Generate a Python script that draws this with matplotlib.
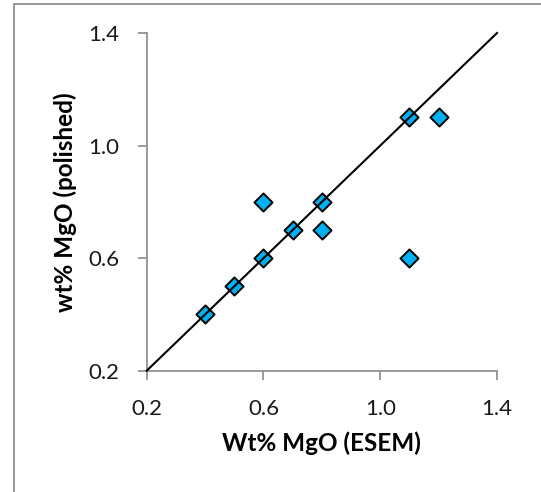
import numpy as np
import matplotlib.pyplot as plt
from matplotlib.patches import Rectangle

# MgO content measured by ESEM vs. on polished sections (wt%)
esem = [0.4, 0.5, 0.6, 0.6, 0.7, 0.8, 0.8, 1.1, 1.2, 1.1]
polished = [0.4, 0.5, 0.6, 0.8, 0.7, 0.8, 0.7, 1.1, 1.1, 0.6]
one_to_one = [0.2, 1.4]
ticks = [0.2, 0.6, 1.0, 1.4]

plt.rcParams['font.family'] = ['Lato', 'DejaVu Sans']

fig = plt.figure(figsize=(5.41, 4.92), dpi=100)
ax = fig.add_axes([0.2712, 0.2465, 0.6475, 0.6864])

ax.scatter(esem, polished, marker='D', s=85, color='#00B0F0',
           edgecolor='black', linewidth=1.4, zorder=3, clip_on=False)
ax.plot(one_to_one, one_to_one, color='black', linewidth=1.5, zorder=4,
        clip_on=False)

ax.set_xlim(0.2, 1.4)
ax.set_ylim(0.2, 1.4)
ax.set_xticks(ticks)
ax.set_yticks(ticks)
ax.set_xticklabels([f"{t:.1f}" for t in ticks])
ax.set_yticklabels([f"{t:.1f}" for t in ticks])

for side in ['top', 'right']:
    ax.spines[side].set_visible(False)
for side in ['left', 'bottom']:
    ax.spines[side].set_color('#898989')
    ax.spines[side].set_linewidth(1.2)
ax.tick_params(direction='out', length=6.5, width=1.2, color='#898989',
               labelsize=16, labelcolor='#1a1a1a')
ax.tick_params(axis='x', pad=14)
ax.tick_params(axis='y', pad=13)

ax.set_xlabel('Wt% MgO (ESEM)', fontsize=17.5, fontweight='bold', va='center')
ax.set_ylabel('wt% MgO (polished)', fontsize=17.5, fontweight='bold', va='center')
ax.xaxis.set_label_coords(0.5, -0.214)
ax.yaxis.set_label_coords(-0.233, 0.5)

# chart frame, cut off on the right and bottom
frame = Rectangle((14 / 541, -0.2), 1.2, 1.2 - 4 / 492, transform=fig.transFigure,
                  fill=False, edgecolor='#878787', linewidth=1.2, clip_on=False)
fig.patches.append(frame)

fig.savefig('out.png', dpi=100)
